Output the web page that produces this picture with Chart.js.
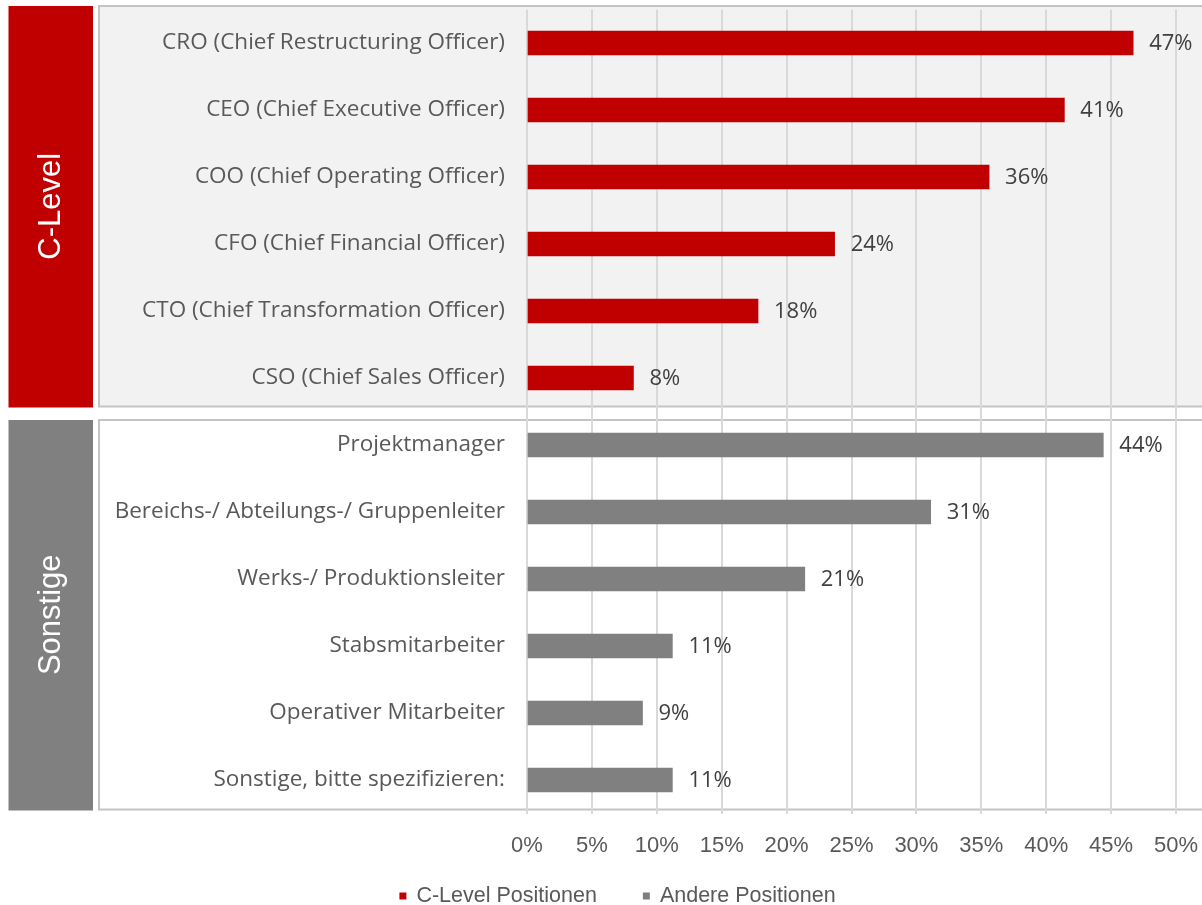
<!DOCTYPE html>
<html>
<head>
<meta charset="utf-8">
<script src="https://cdn.jsdelivr.net/npm/chart.js@4/dist/chart.umd.min.js"></script>
<style>
  html, body { margin: 0; padding: 0; background: #fff; }
  #wrap { width: 1202px; height: 905px; position: relative; }
</style>
</head>
<body>
<div id="wrap"><canvas id="positionsChart"></canvas></div>
<script>
// groups on the left
const groupNames = ["C-Level", "Sonstige"];
const seriesNames = ["C-Level Positionen", "Andere Positionen"];

const cLevelLabels = [
  "CRO (Chief Restructuring Officer)",
  "CEO (Chief Executive Officer)",
  "COO (Chief Operating Officer)",
  "CFO (Chief Financial Officer)",
  "CTO (Chief Transformation Officer)",
  "CSO (Chief Sales Officer)"
];
const cLevelValues = [46.7, 41.4, 35.6, 23.7, 17.8, 8.2];

const otherLabels = [
  "Projektmanager",
  "Bereichs-/ Abteilungs-/ Gruppenleiter",
  "Werks-/ Produktionsleiter",
  "Stabsmitarbeiter",
  "Operativer Mitarbeiter",
  "Sonstige, bitte spezifizieren:"
];
const otherValues = [44.4, 31.1, 21.4, 11.2, 8.9, 11.2];

const xTicks = [0, 5, 10, 15, 20, 25, 30, 35, 40, 45, 50];

const RED = "#c00000";
const GREY = "#808080";
const ARIAL = "'Liberation Sans', Arial, sans-serif";
const LABEL_FONT = "'Open Sans', sans-serif";

const labels = cLevelLabels.concat(otherLabels);
const cLevelData = cLevelValues.concat(otherLabels.map(() => null));
const otherData = cLevelLabels.map(() => null).concat(otherValues);

// background boxes + coloured side bands
const groupBoxes = {
  id: "groupBoxes",
  beforeDraw(chart) {
    const ctx = chart.ctx;
    const y = chart.scales.y;
    const half = (y.getPixelForValue(1) - y.getPixelForValue(0)) / 2;
    const groups = [
      { top: y.getPixelForValue(0) - half - 3.5, bottom: y.getPixelForValue(5) + half - 5, fill: "#f2f2f2", band: RED, name: groupNames[0] },
      { top: y.getPixelForValue(6) - half + 8.5, bottom: y.getPixelForValue(11) + half - 4, fill: "#ffffff", band: GREY, name: groupNames[1] }
    ];
    ctx.save();
    groups.forEach(g => {
      ctx.fillStyle = g.fill;
      ctx.fillRect(99, g.top, chart.width - 99 + 5, g.bottom - g.top);
      ctx.strokeStyle = "#c4c4c4";
      ctx.lineWidth = 2;
      ctx.strokeRect(99, g.top, chart.width - 99 + 5, g.bottom - g.top);

      ctx.fillStyle = g.band;
      ctx.fillRect(8.5, g.top, 84.5, g.bottom - g.top + 1);

      ctx.save();
      ctx.translate(51.5, (g.top + g.bottom) / 2);
      ctx.rotate(-Math.PI / 2);
      ctx.fillStyle = "#ffffff";
      ctx.font = "31px " + ARIAL;
      ctx.textAlign = "center";
      ctx.textBaseline = "middle";
      ctx.fillText(g.name, 0, 0);
      ctx.restore();
    });
    ctx.restore();
  }
};

// value labels to the right of the bars
const valueLabels = {
  id: "valueLabels",
  afterDatasetsDraw(chart) {
    const ctx = chart.ctx;
    ctx.save();
    ctx.font = "22px " + LABEL_FONT;
    ctx.fillStyle = "#404040";
    ctx.textAlign = "left";
    ctx.textBaseline = "middle";
    chart.data.datasets.forEach((ds, i) => {
      chart.getDatasetMeta(i).data.forEach((bar, j) => {
        const v = ds.data[j];
        if (v === null || v === undefined) return;
        ctx.fillText(Math.round(v) + "%", bar.x + 16, bar.y + 1);
      });
    });
    ctx.restore();
  }
};

// legend under the axis, small square markers
const bottomLegend = {
  id: "bottomLegend",
  afterDraw(chart) {
    const ctx = chart.ctx;
    ctx.save();
    ctx.font = "21.5px " + ARIAL;
    ctx.textBaseline = "middle";
    const items = chart.data.datasets.map(ds => ({ text: ds.label, color: ds.backgroundColor, w: ctx.measureText(ds.label).width }));
    const marker = 7, gap = 10, between = 46;
    let total = 0;
    items.forEach((it, i) => { total += marker + gap + it.w + (i ? between : 0); });
    let x = 617.5 - total / 2;
    const yc = 896;
    items.forEach(it => {
      ctx.fillStyle = it.color;
      ctx.fillRect(x, yc - marker / 2, marker, marker);
      x += marker + gap;
      ctx.fillStyle = "#595959";
      ctx.fillText(it.text, x, yc);
      x += it.w + between;
    });
    ctx.restore();
  }
};

new Chart("positionsChart", {
  type: "bar",
  data: {
    labels: labels,
    datasets: [
      { label: seriesNames[0], data: cLevelData, backgroundColor: RED, barThickness: 24, grouped: false },
      { label: seriesNames[1], data: otherData, backgroundColor: GREY, barThickness: 24, grouped: false }
    ]
  },
  options: {
    indexAxis: "y",
    responsive: true,
    maintainAspectRatio: false,
    animation: false,
    layout: { padding: { top: 9.5, right: 26, left: 0, bottom: 46.5 } },
    scales: {
      x: {
        min: 0,
        max: 50,
        afterBuildTicks: s => { s.ticks = xTicks.map(v => ({ value: v })); },
        afterFit: s => { s.height = 45; s.paddingLeft = 0; s.paddingRight = 0; },
        ticks: {
          callback: v => v + "%",
          color: "#595959",
          font: { family: ARIAL, size: 22 },
          padding: 19,
          maxRotation: 0
        },
        grid: { color: "#d9d9d9", lineWidth: 2, drawTicks: false },
        border: { display: false }
      },
      y: {
        afterFit: s => { s.width = 527; s.paddingTop = 0; s.paddingBottom = 0; },
        ticks: {
          color: "#595959",
          font: { family: LABEL_FONT, size: 22.5 },
          padding: 22
        },
        grid: { display: false, drawTicks: false },
        border: { display: false }
      }
    },
    plugins: {
      legend: { display: false },
      tooltip: { enabled: false }
    }
  },
  plugins: [groupBoxes, valueLabels, bottomLegend]
});
</script>
</body>
</html>
